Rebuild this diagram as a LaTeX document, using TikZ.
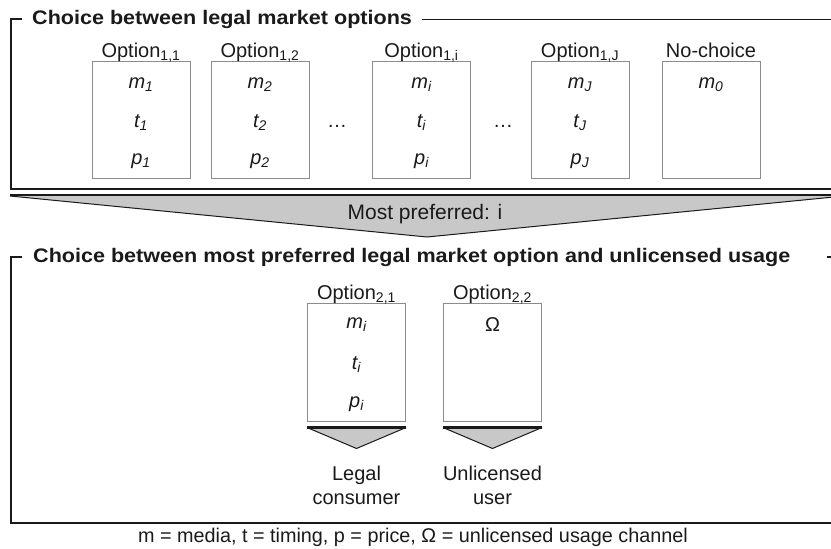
\documentclass[tikz,border=0pt]{standalone}
\usepackage{fontspec}
\setmainfont{Liberation Sans}
\newfontfamily\titlefont[FakeStretch=1.1]{Liberation Sans Bold}
\usetikzlibrary{calc}
\definecolor{ink}{HTML}{1A1A1A}
\definecolor{boxline}{HTML}{8C8C8C}
\definecolor{arrowfill}{HTML}{C8C8C8}
\tikzset{
  frame/.style={draw=ink, line width=1.3pt},
  optbox/.style={draw=boxline, line width=1pt, minimum width=98pt, minimum height=117pt, inner sep=0pt},
  lbl/.style={font=\fontsize{20}{24}\selectfont, text=ink, inner sep=0pt},
  var/.style={font=\fontsize{20}{24}\selectfont\itshape, text=ink, inner sep=0pt},
  ttl/.style={font=\fontsize{19.6}{22}\titlefont, text=ink, anchor=west, inner sep=0pt},
  trifill/.style={fill=arrowfill, draw=none},
  bar/.style={draw=ink, line width=2.5pt},
  slant/.style={draw=ink, line width=1pt}
}
\begin{document}
\begin{tikzpicture}[x=1pt,y=-1pt]
\useasboundingbox (0,0) rectangle (831,549);
% ---------- frame 1
\node[ttl] (t1) at (32,19.5) {Choice between legal market options};
\coordinate (f1a) at (22,19);
\coordinate (f1b) at (11,19);
\coordinate (f1c) at (11,189);
\coordinate (f1d) at (844,189);
\coordinate (f1e) at (844,19);
\draw[frame] (f1a) -- (f1b) -- (f1c) -- (f1d);
\draw[frame] ($(t1.east)+(10,0)$) -- (f1e |- t1.east);
% boxes
\foreach \nm/\cx in {b1/141, b2/260, bi/421.5, bJ/580, b0/711}{
  \node[optbox] (\nm) at (\cx,119.5) {};
}
\node[lbl, anchor=base] (lb1) at ($(b1.north)+(0,-3)$) {Option\textsubscript{1,1}};
\node[lbl, anchor=base] (lb2) at ($(b2.north)+(0,-3)$) {Option\textsubscript{1,2}};
\node[lbl, anchor=base] (lbi) at ($(bi.north)+(0,-3)$) {Option\textsubscript{1,i}};
\node[lbl, anchor=base] (lbJ) at ($(bJ.north)+(0,-3)$) {Option\textsubscript{1,J}};
\node[lbl, anchor=base] (lb0) at ($(b0.north)+(0,-3)$) {No-choice};
\node[var] (m1) at ($(b1.north)+(0,24)$) {m\textsubscript{1}};
\node[var] (t1v) at ($(b1.north)+(0,62)$) {t\textsubscript{1}};
\node[var] (p1) at ($(b1.north)+(0,101)$) {p\textsubscript{1}};
\node[var] (m2) at ($(b2.north)+(0,24)$) {m\textsubscript{2}};
\node[var] (t2) at ($(b2.north)+(0,62)$) {t\textsubscript{2}};
\node[var] (p2) at ($(b2.north)+(0,101)$) {p\textsubscript{2}};
\node[var] (mi) at ($(bi.north)+(0,24)$) {m\textsubscript{i}};
\node[var] (ti) at ($(bi.north)+(0,62)$) {t\textsubscript{i}};
\node[var] (pi) at ($(bi.north)+(0,101)$) {p\textsubscript{i}};
\node[var] (mJ) at ($(bJ.north)+(0,24)$) {m\textsubscript{J}};
\node[var] (tJ) at ($(bJ.north)+(0,62)$) {t\textsubscript{J}};
\node[var] (pJ) at ($(bJ.north)+(0,101)$) {p\textsubscript{J}};
\node[var] (m0) at ($(b0.north)+(0,24)$) {m\textsubscript{0}};
\node[lbl] (d1) at (337,126) {\dots};
\node[lbl] (d2) at (503,126) {\dots};
% ---------- big arrow
\coordinate (A1) at (10,196);
\coordinate (A2) at (844,196);
\coordinate (A3) at (427,237);
\fill[trifill] (A1) -- (A2) -- (A3) -- cycle;
\draw[slant] (A1) -- (A3) -- (A2);
\draw[bar] (10,195) -- (844,195);
\node[lbl, font=\fontsize{21}{24}\selectfont] (mp) at (425,214.5) {Most preferred: i};
% ---------- frame 2
\node[ttl] (t2t) at (33,257) {Choice between most preferred legal market option and unlicensed usage};
\coordinate (f2a) at (22,257);
\coordinate (f2b) at (11,257);
\coordinate (f2c) at (11,523);
\coordinate (f2d) at (844,523);
\coordinate (f2e) at (827,257);
\coordinate (f2f) at (844,257);
\draw[frame] (f2a) -- (f2b) -- (f2c) -- (f2d);
\draw[frame] (f2e) -- (f2f);
\node[optbox, minimum height=118pt] (c1) at (356.5,362) {};
\node[optbox, minimum height=118pt] (c2) at (492.5,362) {};
\node[lbl, anchor=base] (lc1) at ($(c1.north)+(0,-3)$) {Option\textsubscript{2,1}};
\node[lbl, anchor=base] (lc2) at ($(c2.north)+(0,-3)$) {Option\textsubscript{2,2}};
\node[var] (cmi) at ($(c1.north)+(0,22)$) {m\textsubscript{i}};
\node[var] (cti) at ($(c1.north)+(0,62)$) {t\textsubscript{i}};
\node[var] (cpi) at ($(c1.north)+(0,102)$) {p\textsubscript{i}};
\node[lbl] (om) at ($(c2.north)+(0,22)$) {Ω};
% small arrows
\foreach \b in {c1, c2}{
  \coordinate (\b L) at ($(\b.south west)+(0,6)$);
  \coordinate (\b R) at ($(\b.south east)+(0,6)$);
  \coordinate (\b T) at ($(\b.south)+(0,27)$);
  \fill[trifill] (\b L) -- (\b R) -- (\b T) -- cycle;
  \draw[slant] (\b L) -- (\b T) -- (\b R);
  \draw[bar, line width=2.4pt] (\b L) -- (\b R);
}
\node[lbl, align=center] (legal) at ($(c1.south)+(0,64)$) {Legal\\consumer};
\node[lbl, align=center] (unlic) at ($(c2.south)+(0,64)$) {Unlicensed\\user};
% footer
\node[lbl, font=\fontsize{19.8}{24}\selectfont] (foot) at (413,537) {m = media, t = timing, p = price, Ω = unlicensed usage channel};
\end{tikzpicture}
\end{document}
